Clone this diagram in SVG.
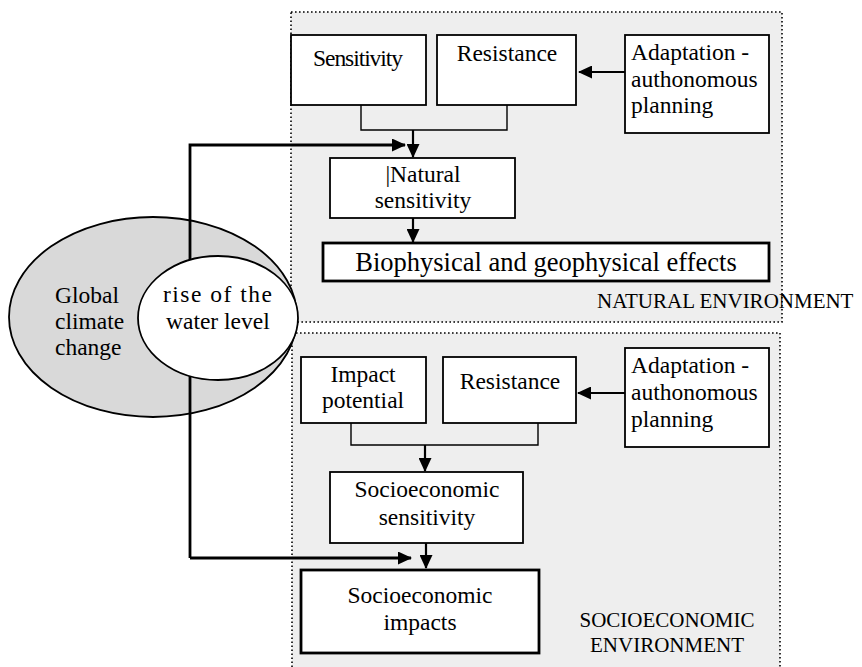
<svg xmlns="http://www.w3.org/2000/svg" width="862" height="667" viewBox="0 0 862 667" font-family="'Liberation Serif', 'Times New Roman', 'DejaVu Serif', serif">
<style>
text{font-family:'Liberation Serif','Times New Roman','DejaVu Serif',serif;font-size:23.5px;fill:#000}
.panel{fill:#eeeeee;stroke:#000;stroke-width:1.6;stroke-dasharray:1.6 2.4}
.box{fill:#fff;stroke:#000;stroke-width:1.8}
.thick{fill:#fff;stroke:#000;stroke-width:2.8}
.br{fill:none;stroke:#000;stroke-width:1.4}
.arr{fill:none;stroke:#000;stroke-width:2.2;marker-end:url(#ah)}
.big{fill:none;stroke:#000;stroke-width:2.8;marker-end:url(#ah)}
.env{font-size:21px}
.c{text-anchor:middle}
</style>
<defs>
<marker id="ah" viewBox="0 0 14 13" refX="13" refY="6.5" markerWidth="14" markerHeight="13" markerUnits="userSpaceOnUse" orient="auto">
<path d="M0,0 L14,6.5 L0,13 z" fill="#000"/>
</marker>
</defs>

<g id="panel-natural">
<rect class="panel" x="291" y="12" width="491" height="310"/>
</g>
<g id="panel-socio">
<rect class="panel" x="292" y="333" width="488" height="345"/>
</g>

<g id="global-climate-change">
<ellipse cx="153" cy="317" rx="144" ry="100" fill="#d9d9d9" stroke="#000" stroke-width="1.8"/>
<text x="55" y="303">Global</text>
<text x="55" y="329">climate</text>
<text x="55" y="355">change</text>
</g>

<g id="connectors">
<path class="big" d="M190,558 V145 H405"/>
<path class="big" d="M190,558 H411"/>
<path class="arr" d="M625,72 H579"/>
<path class="br" d="M361,105 V130 H507 V105"/>
<path class="arr" d="M413,130 V157"/>
<path class="arr" d="M413,218 V242"/>
<path class="arr" d="M625,393 H578"/>
<path class="br" d="M351,423 V445 H538 V423"/>
<path class="arr" d="M425,445 V471"/>
<path class="arr" d="M426,543 V568"/>
</g>

<g id="rise-water-level">
<ellipse cx="218" cy="318" rx="80" ry="62" fill="#fff" stroke="#000" stroke-width="1.8"/>
<text x="163" y="302" textLength="109" lengthAdjust="spacing">rise of the</text>
<text x="166" y="329">water level</text>
</g>

<g id="sensitivity">
<rect class="box" x="291" y="35" width="135" height="70"/>
<text class="c" x="358" y="66" textLength="90">Sensitivity</text>
</g>
<g id="resistance-natural">
<rect class="box" x="437" y="35" width="139" height="70"/>
<text class="c" x="507" y="61">Resistance</text>
</g>
<g id="adaptation-natural">
<rect class="box" x="625" y="35" width="144" height="98"/>
<text x="631" y="60">Adaptation -</text>
<text x="631" y="87">authonomous</text>
<text x="631" y="113">planning</text>
</g>
<g id="natural-sensitivity">
<rect class="box" x="330" y="158" width="185" height="60"/>
<text class="c" x="423" y="182">|Natural</text>
<text class="c" x="423" y="208">sensitivity</text>
</g>
<g id="biophysical-effects">
<rect class="thick" x="323" y="243" width="446" height="38"/>
<text class="c" x="546" y="271" style="font-size:26.5px">Biophysical and geophysical effects</text>
</g>
<text class="env" x="597" y="308">NATURAL ENVIRONMENT</text>

<g id="impact-potential">
<rect class="box" x="301" y="357" width="125" height="66"/>
<text class="c" x="363" y="382">Impact</text>
<text class="c" x="363" y="408">potential</text>
</g>
<g id="resistance-socio">
<rect class="box" x="443" y="357" width="133" height="66"/>
<text class="c" x="510" y="389">Resistance</text>
</g>
<g id="adaptation-socio">
<rect class="box" x="625" y="348" width="144" height="99"/>
<text x="631" y="373">Adaptation -</text>
<text x="631" y="400">authonomous</text>
<text x="631" y="427">planning</text>
</g>
<g id="socio-sensitivity">
<rect class="box" x="330" y="472" width="193" height="71"/>
<text class="c" x="427" y="497">Socioeconomic</text>
<text class="c" x="427" y="525">sensitivity</text>
</g>
<g id="socio-impacts">
<rect class="thick" x="301" y="570" width="238" height="83"/>
<text class="c" x="420" y="603">Socioeconomic</text>
<text class="c" x="420" y="630">impacts</text>
</g>
<text class="env c" x="667" y="627">SOCIOECONOMIC</text>
<text class="env c" x="667" y="652">ENVIRONMENT</text>
</svg>
